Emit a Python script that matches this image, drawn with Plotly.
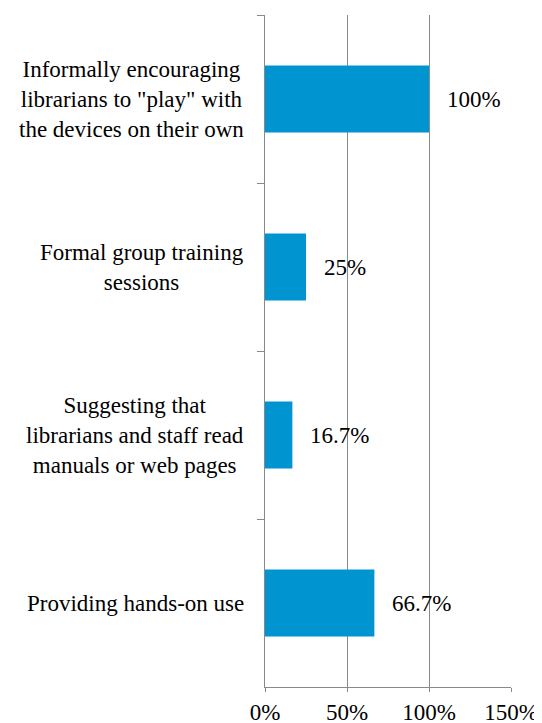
import plotly.graph_objects as go

categories = [
    'Informally encouraging<br>librarians to "play" with<br>the devices on their own',
    "Formal group training<br>sessions",
    "Suggesting that<br>librarians and staff read<br>manuals or web pages",
    "Providing hands-on use",
]
values = [100, 25, 16.7, 66.7]
value_labels = ["100%", "25%", "16.7%", "66.7%"]
x_ticks = [0, 50, 100, 150]
x_tick_labels = ["0%", "50%", "100%", "150%"]

FONT = "'Liberation Serif'"
GRAY = "#898989"

fig = go.Figure()
fig.add_trace(go.Bar(
    x=values, y=categories, orientation="h",
    marker=dict(color="#0094D0", line=dict(width=0)),
    width=0.4, hoverinfo="skip",
))

annotations = []
for c, v, t in zip(categories, values, value_labels):
    annotations.append(dict(
        x=v, y=c, xref="x", yref="y", text=t, showarrow=False,
        xanchor="left", yanchor="middle", xshift=16,
        font=dict(family=FONT, size=23, color="#000000"),
    ))
for c in categories:
    annotations.append(dict(
        x=0, y=c, xref="paper", yref="y", text=c, showarrow=False,
        xanchor="right", yanchor="middle", xshift=-19, align="center",
        font=dict(family=FONT, size=23, color="#000000"),
    ))

# page body has an 8px margin, so the figure is sized/margined to compensate
fig.update_layout(
    width=534, height=715,
    margin=dict(l=257, r=31, t=7, b=36, autoexpand=False),
    paper_bgcolor="white", plot_bgcolor="white",
    showlegend=False,
    font=dict(family=FONT, size=23, color="#000000"),
    annotations=annotations,
    xaxis=dict(
        range=[0, 150], tickvals=x_ticks, ticktext=x_tick_labels,
        showgrid=True, gridcolor=GRAY, gridwidth=1,
        showline=True, linecolor=GRAY, linewidth=1,
        ticks="outside", ticklen=4, tickcolor=GRAY,
        zeroline=False, fixedrange=True, automargin=False,
        tickfont=dict(family=FONT, size=23, color="#000000"),
    ),
    yaxis=dict(
        categoryorder="array", categoryarray=categories,
        autorange="reversed", automargin=False,
        showticklabels=False, tickson="boundaries",
        ticks="outside", ticklen=7, tickcolor=GRAY,
        showline=True, linecolor=GRAY, linewidth=1,
        showgrid=False, zeroline=False,
    ),
)

fig.write_html("out.html")
